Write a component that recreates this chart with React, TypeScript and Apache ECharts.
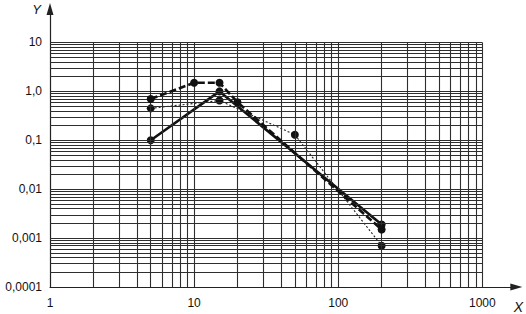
import React, { useEffect, useRef } from "react";
import * as echarts from "echarts";

// Data (log-log)
const xSolid = [5, 15, 200];
const ySolid = [0.1, 1.0, 0.0019];
const xDashed = [5, 10, 15, 20, 200];
const yDashed = [0.7, 1.5, 1.5, 0.6, 0.0015];
const xDotted = [5, 15, 50, 200];
const yDotted = [0.45, 0.65, 0.13, 0.0007];

const xTickLabels = ["1", "10", "100", "1000"]; // 10^0 .. 10^3
const yTickLabels = ["0,0001", "0,001", "0,01", "0,1", "1,0", "10"]; // 10^-4 .. 10^1

const X_MIN = 1, X_GRID_MAX = 1000, X_AXIS_MAX = 1721;
const Y_MIN = 0.0001, Y_GRID_MAX = 10, Y_AXIS_MAX = 48.4;

function zip(xs: number[], ys: number[]) {
  return xs.map((x, i) => [x, ys[i]]);
}

function logGridValues(lo: number, hi: number) {
  const out: number[] = [];
  for (let e = Math.round(Math.log10(lo)); Math.pow(10, e) < hi - 1e-12; e++) {
    for (let m = 1; m < 10; m++) out.push(m * Math.pow(10, e));
  }
  out.push(hi);
  return out;
}

export default function App() {
  const ref = useRef<HTMLDivElement>(null);
  useEffect(() => {
    if (!ref.current) return;
    const chart = echarts.init(ref.current, undefined, { renderer: "svg" });
    const font = "Liberation Sans";
    const xs = logGridValues(X_MIN, X_GRID_MAX);
    const ys = logGridValues(Y_MIN, Y_GRID_MAX);
    const gridLines: any[] = [];
    xs.forEach((x) => {
      if (x === X_MIN) return;
      gridLines.push([{ coord: [x, Y_MIN] }, { coord: [x, Y_GRID_MAX] }]);
    });
    ys.forEach((y) => {
      if (y === Y_MIN) return;
      gridLines.push([{ coord: [X_MIN, y] }, { coord: [X_GRID_MAX, y] }]);
    });
    const exponent = (v: number) => {
      const e = Math.log10(v);
      const r = Math.round(e);
      return Math.abs(e - r) < 1e-6 ? r : null;
    };
    const pointStyle = { color: "#111" };
    chart.setOption({
      animation: false,
      grid: { left: 50, right: 9, top: 9, bottom: 23, containLabel: false },
      xAxis: {
        type: "log",
        logBase: 10,
        min: X_MIN,
        max: X_AXIS_MAX,
        name: "X",
        nameLocation: "end",
        nameGap: 2,
        nameTextStyle: {
          fontFamily: font,
          fontSize: 14,
          fontStyle: "italic",
          color: "#111",
          align: "center",
          verticalAlign: "top",
          padding: [13, 0, 0, 0],
        },
        axisLine: {
          show: true,
          symbol: ["none", "triangle"],
          symbolSize: [7, 12],
          lineStyle: { color: "#222", width: 1.2 },
        },
        axisTick: { show: false },
        splitLine: { show: false },
        axisLabel: {
          fontFamily: font,
          fontSize: 12,
          color: "#111",
          margin: 10,
          showMaxLabel: true,
          formatter: (v: number) => {
            const e = exponent(v);
            return e !== null && e >= 0 && e < xTickLabels.length ? xTickLabels[e] : "";
          },
        },
      },
      yAxis: {
        type: "log",
        logBase: 10,
        min: Y_MIN,
        max: Y_AXIS_MAX,
        name: "Y",
        nameLocation: "end",
        nameGap: 6,
        nameTextStyle: {
          fontFamily: font,
          fontSize: 13,
          fontStyle: "italic",
          color: "#111",
          align: "right",
          verticalAlign: "top",
          padding: [0, 9, 0, 0],
        },
        axisLine: {
          show: true,
          symbol: ["none", "triangle"],
          symbolSize: [7, 12],
          lineStyle: { color: "#222", width: 1.2 },
        },
        axisTick: { show: false },
        splitLine: { show: false },
        axisLabel: {
          fontFamily: font,
          fontSize: 12,
          color: "#111",
          margin: 8,
          formatter: (v: number) => {
            const e = exponent(v);
            return e !== null && e >= -4 && e - -4 < yTickLabels.length ? yTickLabels[e + 4] : "";
          },
        },
      },
      series: [
        {
          type: "line",
          data: [[X_MIN, Y_MIN]],
          symbol: "none",
          lineStyle: { opacity: 0 },
          silent: true,
          z: 1,
          markLine: {
            silent: true,
            symbol: ["none", "none"],
            label: { show: false },
            lineStyle: { color: "#2e2e2e", width: 1.1, type: "solid" },
            emphasis: { disabled: true },
            data: gridLines,
          },
        },
        {
          type: "line",
          data: zip(xDotted, yDotted),
          symbol: "circle",
          symbolSize: 8,
          itemStyle: pointStyle,
          lineStyle: { color: "#222", width: 1.1, type: [2, 2] },
          z: 3,
        },
        {
          type: "line",
          data: zip(xSolid, ySolid),
          symbol: "circle",
          symbolSize: 8,
          itemStyle: pointStyle,
          lineStyle: { color: "#111", width: 2.6, type: "solid" },
          z: 4,
        },
        {
          type: "line",
          data: zip(xDashed, yDashed),
          symbol: "circle",
          symbolSize: 8,
          itemStyle: pointStyle,
          lineStyle: { color: "#111", width: 2.6, type: [7, 3] },
          z: 5,
        },
      ],
    });
    return () => chart.dispose();
  }, []);
  return (
    <div
      ref={ref}
      style={{ position: "fixed", left: 0, top: 0, width: 526, height: 314, background: "#fff" }}
    />
  );
}
